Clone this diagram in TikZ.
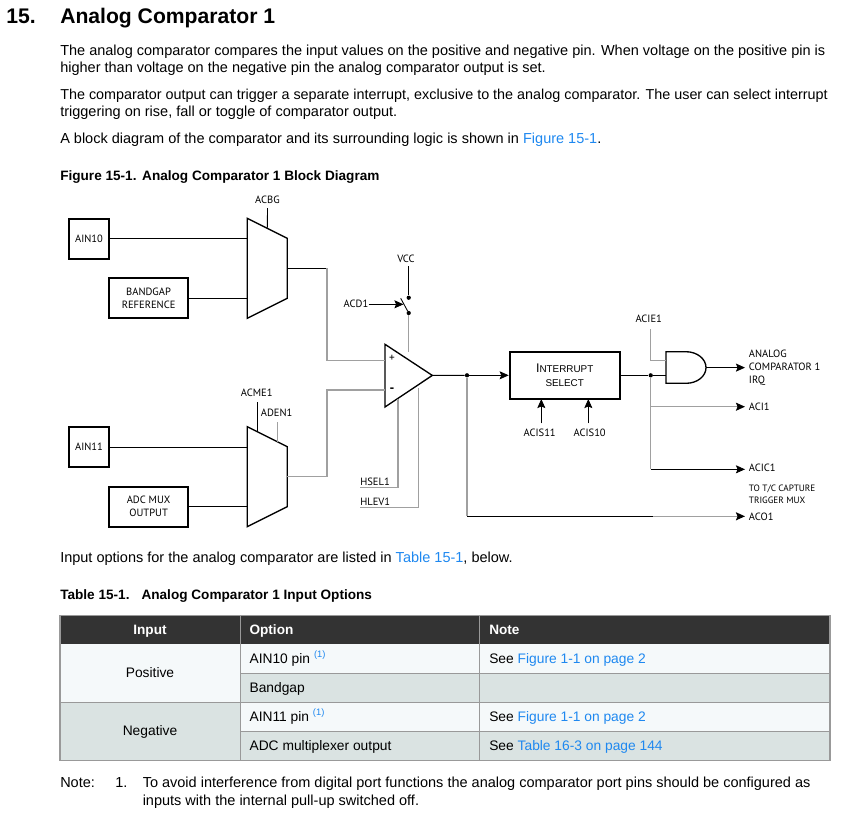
\documentclass[tikz,border=0pt]{standalone}
\usepackage{fontspec}
\setmainfont{Liberation Sans}
\newfontfamily\lblfont{PT Sans}
\usetikzlibrary{arrows.meta,positioning}
\definecolor{linkblue}{HTML}{1E88F0}
\definecolor{rowlight}{HTML}{F5F9FA}
\definecolor{rowdark}{HTML}{DAE3E2}
\definecolor{headdark}{HTML}{333333}
\definecolor{tablegrid}{HTML}{999999}
\definecolor{wiregray}{HTML}{A0A0A0}
\newcommand{\lnk}[1]{\textcolor{linkblue}{#1}}
\tikzset{
    pinbox/.style={draw, line width=1.5pt, inner sep=0pt, align=center, font=\lblfont\fontsize{7.9}{10}\selectfont},
    lbl/.style={inner sep=0pt, text height=5pt, text depth=0pt, font=\lblfont\fontsize{7.9}{9}\selectfont},
    blackwire/.style={draw=black, line width=0.65pt},
    graywire/.style={draw=wiregray, line width=1.1pt},
    sig/.style={-{Stealth[length=6.8pt,width=6pt,inset=1.2pt,color=black]}},
    gate/.style={draw=black, line width=1pt, line join=miter},
    junction/.style={circle, fill=black, inner sep=0pt, minimum size=3.2pt},
    bodytext/.style={anchor=base west, inner sep=0pt, font=\fontsize{10.88}{12}\selectfont},
    boldtext/.style={anchor=base west, inner sep=0pt, font=\bfseries\fontsize{10.2}{12}\selectfont},
    cell/.style={inner sep=0pt, font=\fontsize{10.35}{12}\selectfont},
    headcell/.style={inner sep=0pt, text=white, font=\bfseries\fontsize{10.2}{12}\selectfont}
}
\begin{document}
\begin{tikzpicture}[x=0.75pt,y=-0.75pt]
    \useasboundingbox (0,0) rectangle (848,819);

    % Heading and text above the figure
    \node[anchor=base west, inner sep=0pt, font=\bfseries\fontsize{15.85}{18}\selectfont] (secnum) at (6,23) {15.};
    \node[anchor=base west, inner sep=0pt, font=\bfseries\fontsize{15.85}{18}\selectfont] (sectitle) at (60,23) {Analog Comparator 1};
    \node[bodytext] (para1a) at (60,55) {The analog comparator compares the input values on the positive and negative pin. When voltage on the positive pin is};
    \node[bodytext] (para1b) at (60,72) {higher than voltage on the negative pin the analog comparator output is set.};
    \node[bodytext, font=\fontsize{10.78}{12}\selectfont] (para2a) at (60,99) {The comparator output can trigger a separate interrupt, exclusive to the analog comparator. The user can select interrupt};
    \node[bodytext] (para2b) at (60,116) {triggering on rise, fall or toggle of comparator output.};
    \node[bodytext] (para3) at (60,143) {A block diagram of the comparator and its surrounding logic is shown in \lnk{Figure 15-1}.};
    \node[boldtext] (figcap) at (60,180) {Figure 15-1.\hspace{4.2pt}Analog Comparator 1 Block Diagram};

    % Input boxes
    \node[pinbox, minimum width=30pt, minimum height=30pt] (ain10) at (89,238.7) {AIN10};
    \node[pinbox, minimum width=59.5pt, minimum height=30pt] (bandgap) at (148.6,298.1) {BANDGAP\\REFERENCE};
    \node[pinbox, minimum width=30pt, minimum height=30pt] (ain11) at (89,447) {AIN11};
    \node[pinbox, minimum width=59.5pt, minimum height=30pt] (adcmux) at (148.6,506.5) {ADC MUX\\OUTPUT};

    % Upper mux
    \coordinate (muxa1) at (247.3,238.7);
    \coordinate (muxa2) at (247.3,298.1);
    \coordinate (muxaout) at (287.3,268.3);
    \coordinate (muxasel) at (267.3,228.3);
    \draw[gate] (247.3,218.3) -- (287.3,238.3) -- (287.3,298.3) -- (247.3,318.3) -- cycle;
    \node[lbl] (acbg) at (267.5,200) {ACBG};

    % Lower mux
    \coordinate (muxb1) at (247.3,447);
    \coordinate (muxb2) at (247.3,506.5);
    \coordinate (muxbout) at (287.3,476.7);
    \coordinate (muxbsela) at (257.3,431.7);
    \coordinate (muxbselb) at (277.3,441.7);
    \draw[gate] (247.3,426.7) -- (287.3,446.7) -- (287.3,506.7) -- (247.3,526.7) -- cycle;
    \node[lbl] (acme) at (256.7,393.3) {ACME1};
    \node[lbl] (aden) at (276.7,413.3) {ADEN1};

    % Comparator
    \coordinate (cmpplus) at (385,360.7);
    \coordinate (cmpminus) at (385,390);
    \coordinate (cmpout) at (432.3,375.4);
    \coordinate (cmpvcc) at (408.7,352);
    \coordinate (cmphsel) at (398,399);
    \coordinate (cmphlev) at (418.3,388);
    \draw[gate] (385,344.3) -- (432.3,375.4) -- (385,407) -- cycle;
    \node[inner sep=0pt, font=\lblfont\fontsize{8.5}{8}\selectfont] (plussign) at (392,358.3) {+};
    \node[inner sep=0pt, font=\lblfont\bfseries\fontsize{10}{8}\selectfont] (minussign) at (392,390.5) {-};

    % Wires into the muxes and comparator
    \draw[blackwire] (ain10.east) -- (muxa1);
    \draw[blackwire] (bandgap.east) -- (muxa2);
    \draw[blackwire] (ain11.east) -- (muxb1);
    \draw[blackwire] (adcmux.east) -- (muxb2);
    \draw[blackwire] (acbg.south |- 0,208) -- (muxasel);
    \draw[blackwire] (muxbsela |- 0,402.3) -- (muxbsela);
    \draw[graywire] (muxbselb |- 0,422.3) -- (muxbselb);
    \draw[blackwire] (muxaout) -- (327,268.3);
    \draw[graywire] (327,268.3) -- (327,360.7) -- (cmpplus);
    \draw[graywire] (muxbout) -- (327,476.7) -- (327,390) -- (cmpminus);

    % Supply switch
    \node[lbl] (vcc) at (406,259) {VCC};
    \node[junction] (swtop) at (408.7,297.7) {};
    \node[junction] (swbot) at (408.7,313) {};
    \node[lbl] (acd) at (356,304.3) {ACD1};
    \coordinate (swmid) at (403.5,304.3);
    \draw[blackwire] (408.7,266) -- (swtop);
    \draw[blackwire] (400.7,298.3) -- (swbot);
    \draw[graywire] (swbot) -- (cmpvcc);
    \draw[blackwire, sig] (acd.east) -- (swmid);

    % Hysteresis inputs
    \node[lbl, anchor=west] (hsel) at (360,481.7) {HSEL1};
    \node[lbl, anchor=west] (hlev) at (360,501.7) {HLEV1};
    \draw[graywire] (360,487.7) -- (398,487.7) -- (cmphsel);
    \draw[graywire] (360,507.7) -- (418.3,507.7) -- (cmphlev);

    % Interrupt select
    \node[draw, line width=1.5pt, minimum width=82.5pt, minimum height=35.5pt, inner sep=0pt, align=center, font=\fontsize{7.4}{9}\selectfont] (intsel) at (564.7,375.3) {{\fontsize{9.4}{9}\selectfont I}NTERRUPT\\[1pt]SELECT};
    \node[junction] (cmpjunc) at (467,375.3) {};
    \draw[blackwire] (cmpout) -- (cmpjunc);
    \draw[blackwire, sig] (cmpjunc) -- (intsel.west);
    \node[lbl] (acis11) at (539.7,433.3) {ACIS11};
    \node[lbl] (acis10) at (589.7,433.3) {ACIS10};
    \draw[blackwire, sig] (541.3,423.3) -- (541.3,399);
    \draw[blackwire, sig] (588.3,423.3) -- (588.3,399);

    % AND gate
    \coordinate (andtop) at (666,360.3);
    \coordinate (andbot) at (666,375.3);
    \coordinate (andout) at (706,367.6);
    \draw[gate] (666,351.7) -- (686,351.7) .. controls (697,351.7) and (706,358.8) .. (706,367.6) .. controls (706,376.4) and (697,383.3) .. (686,383.3) -- (666,383.3) -- cycle;
    \node[lbl] (acie) at (648.7,319.3) {ACIE1};
    \node[junction] (intjunc) at (650.7,375.3) {};
    \draw[blackwire] (intsel.east) -- (intjunc);
    \draw[blackwire] (intjunc) -- (andbot);
    \draw[graywire] (650.7,329.3) -- (650.7,360.3) -- (andtop);

    % Outputs
    \node[lbl, anchor=west] (irq1) at (748.7,354) {ANALOG};
    \node[lbl, anchor=west] (irq2) at (748.7,367.3) {COMPARATOR 1};
    \node[lbl, anchor=west] (irq3) at (748.7,380.3) {IRQ};
    \node[lbl, anchor=west] (aci) at (748.7,407.5) {ACI1};
    \node[lbl, anchor=west] (acic) at (748.7,468) {ACIC1};
    \node[lbl, anchor=west, font=\lblfont\fontsize{6.9}{8}\selectfont] (tocap1) at (748.7,488.3) {TO T/C CAPTURE};
    \node[lbl, anchor=west, font=\lblfont\fontsize{6.9}{8}\selectfont] (tocap2) at (748.7,500) {TRIGGER MUX};
    \node[lbl, anchor=west] (aco) at (748.7,517) {ACO1};
    \draw[blackwire, sig] (andout) -- (745,367.6);
    \draw[graywire] (intjunc) -- (650.7,406.7);
    \draw[graywire, sig] (650.7,406.7) -- (745,406.7);
    \draw[graywire] (650.7,406.7) -- (650.7,469.3);
    \draw[blackwire, sig] (650.7,469.3) -- (745,469.3);
    \draw[graywire] (cmpjunc) -- (467,516.3);
    \draw[blackwire] (467,516.3) -- (653,516.3);
    \draw[graywire, sig] (653,516.3) -- (745,516.3);

    % Text between figure and table
    \node[bodytext] (para4) at (60,562) {Input options for the analog comparator are listed in \lnk{Table 15-1}, below.};
    \node[boldtext] (tabcap) at (60,599) {Table 15-1.\hspace{9pt}Analog Comparator 1 Input Options};

    % Table fills
    \fill[headdark] (60,615.3) rectangle (830,644.3);
    \fill[rowlight] (60,644.3) rectangle (240.3,702.3);
    \fill[rowdark] (60,702.3) rectangle (240.3,760.3);
    \fill[rowlight] (240.3,644.3) rectangle (830,673.3);
    \fill[rowdark] (240.3,673.3) rectangle (830,702.3);
    \fill[rowlight] (240.3,702.3) rectangle (830,731.3);
    \fill[rowdark] (240.3,731.3) rectangle (830,760.3);

    % Table grid
    \draw[tablegrid, line width=1pt] (60,615.3) rectangle (830,760.3);
    \draw[tablegrid, line width=0.8pt] (60,702.3) -- (830,702.3);
    \foreach \yy in {673.3,731.3}
        \draw[tablegrid, line width=0.8pt] (240.3,\yy) -- (830,\yy);
    \foreach \xx in {240.3,479.3}
        \draw[tablegrid, line width=0.8pt] (\xx,615.3) -- (\xx,760.3);

    % Table text
    \node[headcell, anchor=base] (hinput) at (150,634) {Input};
    \node[headcell, anchor=base west] (hoption) at (249.3,634) {Option};
    \node[headcell, anchor=base west] (hnote) at (489,634) {Note};
    \node[cell, anchor=base] (positive) at (150,677) {Positive};
    \node[cell, anchor=base] (negative) at (150,735.7) {Negative};
    \node[cell, anchor=base west] (optain10) at (249.3,663.3) {AIN10 pin \raisebox{4pt}{\fontsize{7}{8}\selectfont\lnk{(1)}}};
    \node[cell, anchor=base west] (optband) at (249.3,692.3) {Bandgap};
    \node[cell, anchor=base west] (optain11) at (249.3,721.3) {AIN11 pin \raisebox{4pt}{\fontsize{7}{8}\selectfont\lnk{(1)}}};
    \node[cell, anchor=base west] (optadc) at (249.3,750) {ADC multiplexer output};
    \node[cell, anchor=base west] (noteone) at (489,663.3) {See \lnk{Figure 1-1 on page 2}};
    \node[cell, anchor=base west] (notetwo) at (489,721.3) {See \lnk{Figure 1-1 on page 2}};
    \node[cell, anchor=base west] (notethree) at (489,750) {See \lnk{Table 16-3 on page 144}};

    % Footnote
    \node[bodytext] (notelbl) at (60,787) {Note:};
    \node[bodytext] (notenum) at (115,787) {1.};
    \node[bodytext] (notea) at (142.5,787) {To avoid interference from digital port functions the analog comparator port pins should be configured as};
    \node[bodytext] (noteb) at (142.5,805) {inputs with the internal pull-up switched off.};
\end{tikzpicture}
\end{document}
